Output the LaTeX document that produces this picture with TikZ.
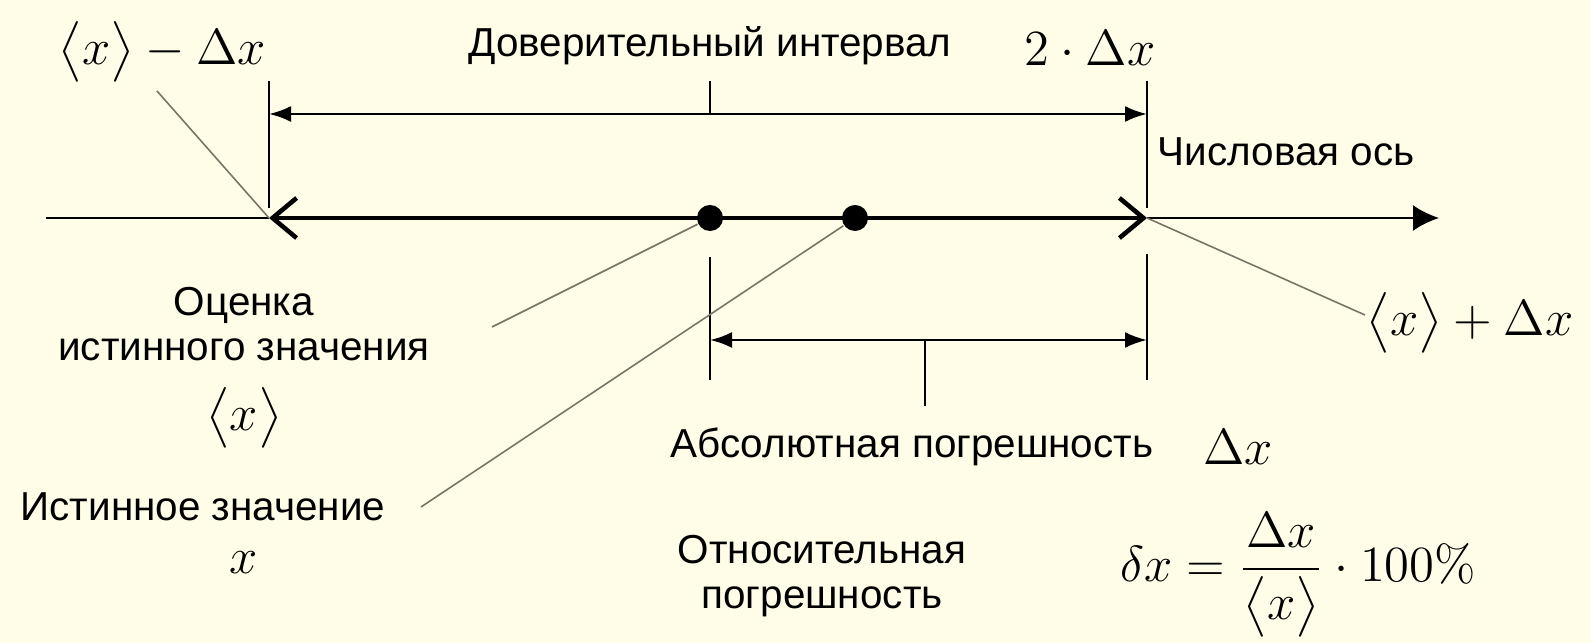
\documentclass[tikz,border=0pt]{standalone}
\usepackage{amsmath}
\usepackage[no-math]{fontspec}
\setmainfont{Liberation Sans}
\usetikzlibrary{arrows.meta,positioning,calc}
\definecolor{paper}{HTML}{FFFDE8}
\definecolor{leadgray}{HTML}{7A7266}

\begin{document}
\begin{tikzpicture}[x=.01cm,y=-.01cm,line width=.55pt,
  lbl/.style={font=\fontsize{11.5}{13}\selectfont,align=center,inner sep=0pt},
  mth/.style={font=\fontsize{14}{17}\selectfont,inner sep=0pt},
  dot/.style={circle,fill=black,inner sep=0pt,minimum size=.26cm},
  leader/.style={leadgray,line width=.45pt},
  dimarrow/.style={line width=.75pt,{Latex[length=2.2mm,width=1.6mm]}-{Latex[length=2.2mm,width=1.6mm]}}]
\fill[paper] (0,0) rectangle (1591,643);
\useasboundingbox (0,0) rectangle (1591,643);
% number axis
\coordinate (ax0) at (46,218);
\coordinate (ax1) at (1439,218);
\coordinate (lo) at (269,218);
\coordinate (hi) at (1147,218);
\draw[line width=.75pt] (ax0) -- (lo);
\draw[line width=.75pt,-{Latex[length=2.6mm,width=2.6mm]}] (hi) -- (ax1);
\draw[line width=1.3pt,{Straight Barb[length=2.4mm,width=4mm]}-{Straight Barb[length=2.4mm,width=4mm]}] (lo) -- (hi);
\node[dot] (est) at (710,218) {};
\node[dot] (true) at (855,218) {};
% vertical marks
\coordinate (lotop) at (269,81);
\coordinate (lobot) at (269,208);
\coordinate (hitop) at (1147,81);
\coordinate (hibot) at (1147,208);
\coordinate (hilow) at (1147,254);
\coordinate (hiend) at (1147,380);
\coordinate (estlow) at (710,257);
\coordinate (estend) at (710,380);
\draw (lotop) -- (lobot);
\draw (hitop) -- (hibot);
\draw (hilow) -- (hiend);
\draw (estlow) -- (estend);
% interval arrows
\coordinate (ilo) at (269,114);
\coordinate (ihi) at (1147,114);
\coordinate (itick) at (710,114);
\coordinate (itop) at (710,81);
\draw[dimarrow] (ilo) -- (ihi);
\draw (itop) -- (itick);
\coordinate (alo) at (710,340);
\coordinate (ahi) at (1147,340);
\coordinate (atick) at (925,340);
\coordinate (abot) at (925,406);
\draw[dimarrow] (alo) -- (ahi);
\draw (atick) -- (abot);
% labels
\node[mth] (lowlab) at (162,52) {$\big\langle x\big\rangle-\Delta x$};
\node[lbl] (intlab) at (710,46) {Доверительный интервал};
\node[mth] (twolab) at (1090,48) {$2\cdot\Delta x$};
\node[lbl,anchor=west] (axlab) at (1157,152) {Числовая ось};
\node[mth] (uplab) at (1470,323) {$\big\langle x\big\rangle+\Delta x$};
\node[lbl] (estlab) at (244,324) {Оценка\\истинного значения};
\node[mth] (estx) at (244,418) {$\big\langle x\big\rangle$};
\node[lbl] (truelab) at (203,507) {Истинное значение};
\node[mth] (truex) at (244,563) {$x$};
\node[lbl] (abslab) at (912,447) {Абсолютная погрешность};
\node[mth] (absdx) at (1238,447) {$\Delta x$};
\node[lbl] (rellab) at (822,576) {Относительная\\погрешность};
\node[mth] (relfml) at (1298,575) {$\delta x=\dfrac{\Delta x}{\big\langle x\big\rangle}\cdot 100\%$};
% leader lines
\coordinate (lowend) at (157,91);
\coordinate (upend) at (1365,315);
\coordinate (estend2) at (492,327);
\coordinate (trueend) at (421,507);
\draw[leader] (lowend) -- (lo);
\draw[leader] (hi) -- (upend);
\draw[leader] (est) -- (estend2);
\draw[leader] (true) -- (trueend);
\end{tikzpicture}
\end{document}
